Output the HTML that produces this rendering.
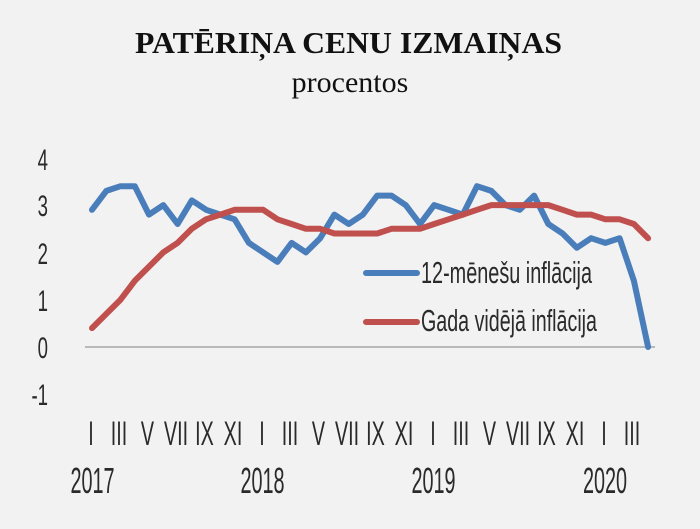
<!DOCTYPE html>
<html>
<head>
<meta charset="utf-8">
<style>
html,body{margin:0;padding:0;background:#f2f2f2;}
svg{display:block;}
.ax{font-family:"Liberation Sans",sans-serif;fill:#2a2a2a;}
</style>
</head>
<body>
<svg width="700" height="529" viewBox="0 0 700 529" xmlns="http://www.w3.org/2000/svg">
<rect x="0" y="0" width="700" height="529" fill="#f2f2f2"/>
<text x="348.5" y="53" text-anchor="middle" font-family="Liberation Serif, serif" font-weight="bold" font-size="31" fill="#111" textLength="427" lengthAdjust="spacingAndGlyphs">PATĒRIŅA CENU IZMAIŅAS</text>
<text x="350" y="92" text-anchor="middle" font-family="Liberation Serif, serif" font-size="30" fill="#111">procentos</text>

<g class="ax" font-size="30" text-anchor="end">
<text transform="translate(48,170) scale(0.62,1)">4</text>
<text transform="translate(48,216) scale(0.62,1)">3</text>
<text transform="translate(48,264) scale(0.62,1)">2</text>
<text transform="translate(48,311) scale(0.62,1)">1</text>
<text transform="translate(48,358) scale(0.62,1)">0</text>
<text transform="translate(48,405) scale(0.62,1)">-1</text>
</g>

<line x1="85" y1="347" x2="655" y2="347" stroke="#a6a6a6" stroke-width="1.5"/>

<polyline fill="none" stroke="#4a7ebb" stroke-width="6" stroke-linejoin="round" stroke-linecap="round" points="92,209.8 106.3,190.9 120.5,186.2 134.8,186.2 149,214.6 163.3,205.1 177.6,224 191.8,200.4 206.1,209.8 220.3,214.6 234.6,219.3 248.9,242.9 263.1,252.4 277.4,261.9 291.6,242.9 305.9,252.4 320.2,238.2 334.4,214.6 348.7,224 362.9,214.6 377.2,195.6 391.5,195.6 405.7,205.1 420,224 434.2,205.1 448.5,209.8 462.8,214.6 477,186.2 491.3,190.9 505.5,205.1 519.8,209.8 534.1,195.6 548.3,224 562.6,233.5 576.8,247.7 591.1,238.2 605.4,242.9 619.6,238.2 633.9,280.8 648.1,347"/>
<polyline fill="none" stroke="#c0504d" stroke-width="6" stroke-linejoin="round" stroke-linecap="round" points="92,328.1 106.3,313.9 120.5,299.7 134.8,280.8 149,266.6 163.3,252.4 177.6,242.9 191.8,228.8 206.1,219.3 220.3,214.6 234.6,209.8 248.9,209.8 263.1,209.8 277.4,219.3 291.6,224 305.9,228.8 320.2,228.8 334.4,233.5 348.7,233.5 362.9,233.5 377.2,233.5 391.5,228.8 405.7,228.8 420,228.8 434.2,224 448.5,219.3 462.8,214.6 477,209.8 491.3,205.1 505.5,205.1 519.8,205.1 534.1,205.1 548.3,205.1 562.6,209.8 576.8,214.6 591.1,214.6 605.4,219.3 619.6,219.3 633.9,224 648.1,238.2"/>

<line x1="366" y1="273" x2="417" y2="273" stroke="#4a7ebb" stroke-width="6" stroke-linecap="round"/>
<line x1="366" y1="322" x2="417" y2="322" stroke="#c0504d" stroke-width="6" stroke-linecap="round"/>
<text class="ax" x="421" y="283" font-size="31" textLength="171" lengthAdjust="spacingAndGlyphs">12-mēnešu inflācija</text>
<text class="ax" x="421" y="331" font-size="31" textLength="176" lengthAdjust="spacingAndGlyphs">Gada vidējā inflācija</text>

<g class="ax" font-size="34" text-anchor="middle">
<text transform="translate(91,445) scale(0.58,1)">I</text>
<text transform="translate(119,445) scale(0.58,1)">III</text>
<text transform="translate(147.5,445) scale(0.58,1)">V</text>
<text transform="translate(176,445) scale(0.58,1)">VII</text>
<text transform="translate(204.5,445) scale(0.58,1)">IX</text>
<text transform="translate(233,445) scale(0.58,1)">XI</text>
<text transform="translate(262,445) scale(0.58,1)">I</text>
<text transform="translate(290,445) scale(0.58,1)">III</text>
<text transform="translate(318.5,445) scale(0.58,1)">V</text>
<text transform="translate(347,445) scale(0.58,1)">VII</text>
<text transform="translate(375.5,445) scale(0.58,1)">IX</text>
<text transform="translate(404,445) scale(0.58,1)">XI</text>
<text transform="translate(433,445) scale(0.58,1)">I</text>
<text transform="translate(461,445) scale(0.58,1)">III</text>
<text transform="translate(489.5,445) scale(0.58,1)">V</text>
<text transform="translate(518,445) scale(0.58,1)">VII</text>
<text transform="translate(546.5,445) scale(0.58,1)">IX</text>
<text transform="translate(575,445) scale(0.58,1)">XI</text>
<text transform="translate(604,445) scale(0.58,1)">I</text>
<text transform="translate(632,445) scale(0.58,1)">III</text>
</g>

<g class="ax" font-size="36" text-anchor="middle">
<text transform="translate(92.5,493) scale(0.55,1)">2017</text>
<text transform="translate(262.5,493) scale(0.55,1)">2018</text>
<text transform="translate(433.5,493) scale(0.55,1)">2019</text>
<text transform="translate(605,493) scale(0.55,1)">2020</text>
</g>
</svg>
</body>
</html>
